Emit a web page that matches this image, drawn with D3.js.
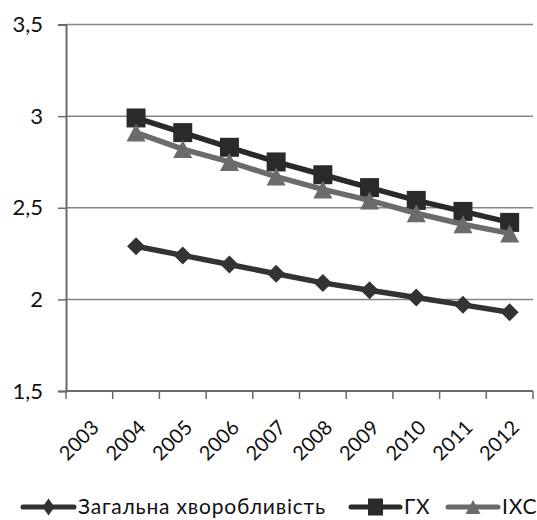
<!DOCTYPE html>
<html>
<head>
<meta charset="utf-8">
<script src="https://cdn.jsdelivr.net/npm/d3@7/dist/d3.min.js"></script>
<style>
  html, body { margin: 0; padding: 0; background: #fff; }
  svg text { font-family: Lato, "Open Sans", "Noto Sans", sans-serif; fill: #111; }
</style>
</head>
<body>
<svg id="chart" width="537" height="520"></svg>
<script>
// Years on the category axis (2003 has no observations)
const years = ["2003", "2004", "2005", "2006", "2007", "2008", "2009", "2010", "2011", "2012"];
const dataYears = ["2004", "2005", "2006", "2007", "2008", "2009", "2010", "2011", "2012"];

// Series values per year
const zahalna = [2.29, 2.24, 2.19, 2.14, 2.09, 2.05, 2.01, 1.97, 1.93];
const gkh     = [2.99, 2.91, 2.83, 2.75, 2.68, 2.61, 2.54, 2.48, 2.42];
const ikhs    = [2.91, 2.82, 2.75, 2.67, 2.60, 2.54, 2.47, 2.41, 2.36];

const yTicks = [1.5, 2, 2.5, 3, 3.5];
const yTickLabels = ["1,5", "2", "2,5", "3", "3,5"];

const seriesNames = ["Загальна хворобливість", "ГХ", "ІХС"];

const series = [
  { name: seriesNames[0], values: zahalna, color: "#333333", marker: "diamond" },
  { name: seriesNames[1], values: gkh,     color: "#2a2a2a", marker: "square" },
  { name: seriesNames[2], values: ikhs,    color: "#6b6b6b", marker: "triangle" }
];

const svg = d3.select("#chart");
const plotLeft = 66, plotRight = 533, plotTop = 24.5, plotBottom = 391;

const x = d3.scaleBand().domain(years).range([plotLeft, plotRight]).padding(0);
const y = d3.scaleLinear().domain([1.5, 3.5]).range([plotBottom, plotTop]);

// Marker shapes with explicit width/height
function markerPath(kind, w, h) {
  const p = d3.path();
  if (kind === "diamond") {
    p.moveTo(0, -h / 2); p.lineTo(w / 2, 0); p.lineTo(0, h / 2); p.lineTo(-w / 2, 0);
  } else if (kind === "square") {
    p.rect(-w / 2, -h / 2, w, h);
  } else {
    p.moveTo(0, -h / 2); p.lineTo(w / 2, h / 2); p.lineTo(-w / 2, h / 2);
  }
  p.closePath();
  return p.toString();
}
const plotMarkerSize = { diamond: [18, 18], square: [19, 19], triangle: [19, 18] };
const legendMarkerSize = { diamond: [12, 17], square: [15, 17], triangle: [15, 14] };

// Horizontal gridlines
svg.append("g")
  .selectAll("line")
  .data(yTicks.slice(1))
  .join("line")
  .attr("x1", plotLeft).attr("x2", plotRight)
  .attr("y1", d => y(d)).attr("y2", d => y(d))
  .attr("stroke", "#858585").attr("stroke-width", 1.5);

// Y axis
const yAxis = svg.append("g")
  .attr("transform", `translate(${plotLeft},0)`)
  .call(d3.axisLeft(y).tickValues(yTicks)
    .tickFormat((d, i) => yTickLabels[i]).tickSize(8).tickPadding(15));
yAxis.select(".domain").attr("stroke", "#6a6a6a").attr("stroke-width", 2);
yAxis.selectAll(".tick line").attr("stroke", "#6a6a6a").attr("stroke-width", 1.5);
yAxis.selectAll(".tick text").style("font-size", "22px").attr("fill", "#111");

// X axis with ticks on category boundaries
const xAxisG = svg.append("g").attr("transform", `translate(0,${plotBottom})`);
xAxisG.append("line")
  .attr("x1", plotLeft).attr("x2", plotRight)
  .attr("stroke", "#6a6a6a").attr("stroke-width", 2);
const boundaries = years.map(d => x(d)).concat([x(years[years.length - 1]) + x.bandwidth()]);
xAxisG.selectAll("line.tick")
  .data(boundaries)
  .join("line")
  .attr("class", "tick")
  .attr("x1", d => d).attr("x2", d => d)
  .attr("y1", 0).attr("y2", 8)
  .attr("stroke", "#6a6a6a").attr("stroke-width", 1.5);
xAxisG.selectAll("text")
  .data(years)
  .join("text")
  .attr("text-anchor", "end")
  .attr("transform", d => `translate(${x(d) + x.bandwidth() / 2 + 1},${28}) rotate(-45)`)
  .attr("dy", "0.7em")
  .style("font-size", "20px")
  .text(d => d);

const cx = d => x(d) + x.bandwidth() / 2;

const line = d3.line().x(d => cx(d.year)).y(d => y(d.v));

series.forEach(s => {
  const pts = dataYears.map((yr, i) => ({ year: yr, v: s.values[i] }));
  const g = svg.append("g");
  g.append("path")
    .datum(pts)
    .attr("d", line)
    .attr("fill", "none")
    .attr("stroke", s.color)
    .attr("stroke-width", 5.5)
    .attr("stroke-linejoin", "round");
  const [mw, mh] = plotMarkerSize[s.marker];
  g.selectAll("path.m")
    .data(pts)
    .join("path")
    .attr("class", "m")
    .attr("transform", d => `translate(${cx(d.year)},${y(d.v)})`)
    .attr("d", markerPath(s.marker, mw, mh))
    .attr("fill", s.color);
});

// Legend
const legendItems = [
  { s: series[0], x0: 23, x1: 74, tx: 78 },
  { s: series[1], x0: 351, x1: 400, tx: 404 },
  { s: series[2], x0: 448, x1: 498, tx: 502 }
];
const legY = 507;
const lg = svg.append("g");
legendItems.forEach(it => {
  lg.append("line")
    .attr("x1", it.x0).attr("x2", it.x1)
    .attr("y1", legY).attr("y2", legY)
    .attr("stroke", it.s.color).attr("stroke-width", 5).attr("stroke-linecap", "round");
  const [mw, mh] = legendMarkerSize[it.s.marker];
  lg.append("path")
    .attr("transform", `translate(${(it.x0 + it.x1) / 2},${legY})`)
    .attr("d", markerPath(it.s.marker, mw, mh))
    .attr("fill", it.s.color);
  lg.append("text")
    .attr("x", it.tx).attr("y", legY)
    .attr("dy", "0.35em")
    .style("font-size", "21px")
    .style("letter-spacing", "0.8px")
    .text(it.s.name);
});
</script>
</body>
</html>
